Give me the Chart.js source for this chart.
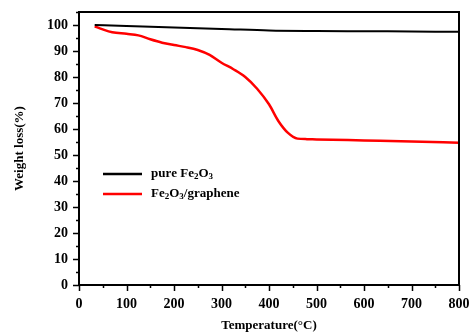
<!DOCTYPE html>
<html>
<head>
<meta charset="utf-8">
<script src="https://cdn.jsdelivr.net/npm/chart.js@4"></script>
<style>
  body { margin: 0; background: #fff; }
  #wrap { width: 469px; height: 333px; }
</style>
</head>
<body>
<div id="wrap"><canvas id="tga" width="469" height="333"></canvas></div>
<script>
// temperatures (°C) and weight (%)
const pureTemp = [33, 100, 200, 300, 400, 500, 600, 700, 800];
const pureWeight = [100, 99.6, 99.0, 98.5, 97.9, 97.7, 97.6, 97.5, 97.4];

const compTemp = [33, 50, 70, 100, 125, 150, 175, 200, 225, 250, 275, 300, 325, 350, 375, 400, 420, 440, 460, 480, 500, 600, 700, 800];
const compWeight = [99.5, 98.3, 97.2, 96.6, 96.0, 94.5, 93.2, 92.3, 91.5, 90.4, 88.5, 85.5, 83.0, 80.0, 75.5, 69.5, 63.0, 58.5, 56.3, 56.1, 56.0, 55.6, 55.2, 54.7];

const seriesNames = ['pure Fe2O3', 'Fe2O3/graphene'];
const xTicks = [0, 100, 200, 300, 400, 500, 600, 700, 800];
const yTicks = [0, 10, 20, 30, 40, 50, 60, 70, 80, 90, 100];

const FONT = "'Liberation Serif', 'DejaVu Serif', serif";

function toPoints(xs, ys) {
    return xs.map((x, i) => ({ x: x, y: ys[i] }));
}

// box + outward tick marks (major and minor)
const frame = {
    id: 'frame',
    afterDraw(chart) {
        const c = chart.ctx;
        const a = chart.chartArea;
        const xs = chart.scales.x;
        const ys = chart.scales.y;
        c.save();
        c.strokeStyle = '#000';
        c.lineWidth = 2;
        c.strokeRect(a.left, a.top, a.right - a.left, a.bottom - a.top);
        c.lineWidth = 1.5;
        c.beginPath();
        for (let v = 0; v <= 800; v += 50) {
            const px = Math.round(xs.getPixelForValue(v)) + 0.5;
            const len = xTicks.includes(v) ? 6 : 3;
            c.moveTo(px, a.bottom);
            c.lineTo(px, a.bottom + len);
        }
        for (let v = 0; v <= 105; v += 5) {
            const py = Math.round(ys.getPixelForValue(v)) + 0.5;
            const len = yTicks.includes(v) ? 6 : 3;
            c.moveTo(a.left, py);
            c.lineTo(a.left - len, py);
        }
        c.stroke();
        c.restore();
    }
};

// legend with subscript digits
function drawChem(c, text, x, y) {
    let cx = x;
    for (const ch of text) {
        if (/[0-9]/.test(ch)) {
            c.font = 'bold 9px ' + FONT;
            c.fillText(ch, cx, y + 3);
        } else {
            c.font = 'bold 13px ' + FONT;
            c.fillText(ch, cx, y);
        }
        cx += c.measureText(ch).width;
    }
}

const chemLegend = {
    id: 'chemLegend',
    afterDraw(chart) {
        const c = chart.ctx;
        c.save();
        c.textBaseline = 'middle';
        c.fillStyle = '#000';
        chart.data.datasets.forEach((ds, i) => {
            const y = 174 + i * 20;
            c.strokeStyle = ds.borderColor;
            c.lineWidth = 2.5;
            c.beginPath();
            c.moveTo(103, y);
            c.lineTo(142, y);
            c.stroke();
            drawChem(c, ds.label, 151, y);
        });
        c.restore();
    }
};

const tga = new Chart(document.getElementById('tga'), {
    type: 'line',
    data: {
        datasets: [
            {
                label: seriesNames[0],
                data: toPoints(pureTemp, pureWeight),
                borderColor: '#000000',
                borderWidth: 2,
                pointRadius: 0,
                cubicInterpolationMode: 'monotone',
                fill: false
            },
            {
                label: seriesNames[1],
                data: toPoints(compTemp, compWeight),
                borderColor: '#ff0000',
                borderWidth: 2.5,
                pointRadius: 0,
                cubicInterpolationMode: 'monotone',
                fill: false
            }
        ]
    },
    options: {
        responsive: false,
        animation: false,
        layout: { padding: { top: 12, right: 10, left: 0, bottom: 0 } },
        plugins: {
            legend: { display: false },
            tooltip: { enabled: false }
        },
        scales: {
            x: {
                type: 'linear',
                min: 0,
                max: 800,
                grid: { display: false, drawTicks: false },
                border: { display: false },
                ticks: {
                    stepSize: 50,
                    autoSkip: false,
                    maxRotation: 0,
                    padding: 11,
                    color: '#000',
                    font: { family: FONT, size: 14, weight: 'bold' },
                    callback: (v) => xTicks.includes(v) ? String(v) : ''
                },
                title: {
                    display: true,
                    text: 'Temperature(°C)',
                    color: '#000',
                    font: { family: FONT, size: 13, weight: 'bold' },
                    padding: { top: 6, bottom: 0 }
                },
                afterFit: (s) => {
                    s.height = 48;
                    s.paddingLeft = 0;
                    s.paddingRight = 0;
                }
            },
            y: {
                min: 0,
                max: 105,
                grid: { display: false, drawTicks: false },
                border: { display: false },
                ticks: {
                    stepSize: 5,
                    autoSkip: false,
                    padding: 11,
                    color: '#000',
                    font: { family: FONT, size: 14, weight: 'bold' },
                    callback: (v) => yTicks.includes(v) ? String(v) : ''
                },
                title: {
                    display: true,
                    text: 'Weight loss(%)',
                    color: '#000',
                    font: { family: FONT, size: 13, weight: 'bold' },
                    padding: { top: 12, bottom: 6 }
                },
                afterFit: (s) => {
                    s.width = 79;
                    s.paddingTop = 0;
                    s.paddingBottom = 0;
                }
            }
        }
    },
    plugins: [frame, chemLegend]
});
</script>
</body>
</html>
